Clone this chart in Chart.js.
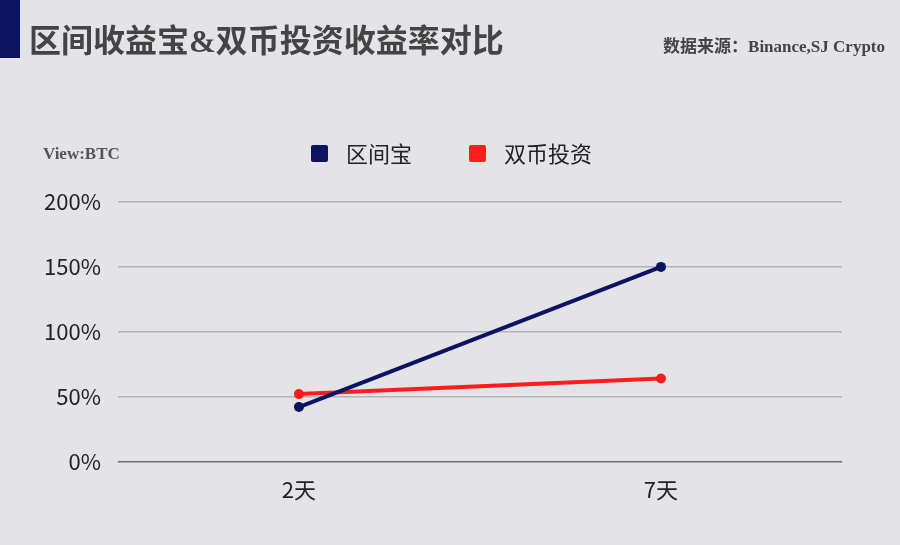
<!DOCTYPE html>
<html>
<head>
<meta charset="utf-8">
<script src="https://cdn.jsdelivr.net/npm/chart.js@4.4.1/dist/chart.umd.min.js"></script>
<style>
html,body{margin:0;padding:0;background:#e4e3e8;}
#wrap{width:900px;height:545px;position:relative;}
</style>
</head>
<body>
<div id="wrap"><canvas id="c" width="900" height="545"></canvas></div>
<script>
const categories = ['2天', '7天'];
const seriesNames = ['区间宝', '双币投资'];
const intervalValues = [42, 150];
const dualValues = [52, 64];
const yTicks = [0, 50, 100, 150, 200];

const titleText = '区间收益宝&双币投资收益率对比';
const sourceText = '数据来源：Binance,SJ Crypto';
const viewText = 'View:BTC';

const BLUE = '#0c1462';
const RED = '#ff1c1c';
const CJK = '"Noto Sans CJK SC", "Noto Sans", sans-serif';

const decor = {
  id: 'decor',
  beforeDraw(chart) {
    const ctx = chart.ctx;
    ctx.save();
    ctx.fillStyle = '#e4e3e8';
    ctx.fillRect(0, 0, chart.width, chart.height);
    ctx.restore();
  },
  afterDraw(chart) {
    const ctx = chart.ctx;
    ctx.save();
    ctx.fillStyle = BLUE;
    ctx.fillRect(0, 0, 20, 58);
    ctx.fillStyle = '#444';
    ctx.textBaseline = 'middle';
    ctx.textAlign = 'left';
    ctx.font = 'bold 32px "Liberation Serif", "Noto Sans CJK SC", serif';
    ctx.fillText(titleText, 29, 44);
    ctx.textAlign = 'right';
    ctx.font = 'bold 17px "Liberation Serif", "Noto Sans CJK SC", serif';
    ctx.fillText(sourceText, 885, 48);
    ctx.textAlign = 'left';
    ctx.fillStyle = '#555';
    ctx.font = 'bold 17px "Liberation Serif", "Noto Sans CJK SC", serif';
    ctx.fillText(viewText, 43, 155);
    const items = [
      {x: 311, color: BLUE, text: seriesNames[0]},
      {x: 469, color: RED, text: seriesNames[1]}
    ];
    ctx.font = '22px ' + CJK;
    items.forEach(it => {
      ctx.fillStyle = it.color;
      ctx.beginPath();
      if (ctx.roundRect) ctx.roundRect(it.x, 145, 17, 17, 2); else ctx.rect(it.x, 145, 17, 17);
      ctx.fill();
      ctx.fillStyle = '#222';
      ctx.textAlign = 'left';
      ctx.fillText(it.text, it.x + 35, 154);
    });
    ctx.restore();
  }
};

new Chart(document.getElementById('c'), {
  type: 'line',
  data: {
    labels: categories,
    datasets: [
      {
        label: seriesNames[0],
        data: intervalValues,
        borderColor: BLUE,
        backgroundColor: BLUE,
        borderWidth: 4,
        pointRadius: 5,
        pointHoverRadius: 5,
        pointBackgroundColor: BLUE,
        pointBorderWidth: 0,
        tension: 0
      },
      {
        label: seriesNames[1],
        data: dualValues,
        borderColor: RED,
        backgroundColor: RED,
        borderWidth: 4,
        pointRadius: 5,
        pointHoverRadius: 5,
        pointBackgroundColor: RED,
        pointBorderWidth: 0,
        tension: 0
      }
    ]
  },
  options: {
    responsive: false,
    animation: false,
    devicePixelRatio: 1,
    layout: {padding: {top: 202, left: 27, right: 58, bottom: 27}},
    plugins: {legend: {display: false}, title: {display: false}, tooltip: {enabled: false}},
    scales: {
      x: {
        offset: true,
        grid: {display: false, drawTicks: false},
        border: {display: false},
        ticks: {font: {family: CJK, size: 22}, color: '#222', padding: 15}
      },
      y: {
        min: yTicks[0],
        max: yTicks[yTicks.length - 1],
        afterBuildTicks(scale) { scale.ticks = yTicks.map(v => ({value: v})); },
        grid: {
          drawTicks: false,
          color: ctx => ctx.tick && ctx.tick.value === 0 ? '#6e6e72' : '#b4b4b8',
          lineWidth: 1.5
        },
        border: {display: false},
        ticks: {
          font: {family: CJK, size: 22},
          color: '#222',
          padding: 17,
          callback: v => v + '%'
        }
      }
    }
  },
  plugins: [decor]
});
</script>
</body>
</html>
